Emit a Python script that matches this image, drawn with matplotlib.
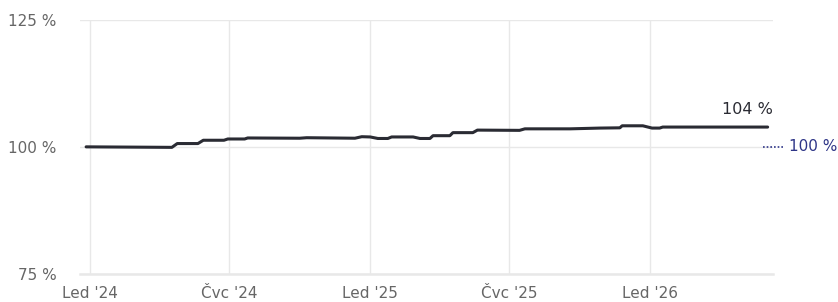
import matplotlib
matplotlib.use("Agg")
import matplotlib.pyplot as plt
import matplotlib.dates as mdates
import numpy as np
import pandas as pd

# Data (index level, %)
dates = ["2023-12-27", "2024-04-17", "2024-04-24", "2024-05-21", "2024-05-28",
         "2024-06-24", "2024-06-29", "2024-07-21", "2024-07-25", "2024-10-01",
         "2024-10-10", "2024-12-12", "2024-12-21", "2025-01-01", "2025-01-11",
         "2025-01-24", "2025-01-29", "2025-02-26", "2025-03-07", "2025-03-20",
         "2025-03-24", "2025-04-15", "2025-04-19", "2025-05-15", "2025-05-21",
         "2025-07-15", "2025-07-22", "2025-09-19", "2025-10-28", "2025-11-23",
         "2025-11-26", "2025-12-23", "2026-01-04", "2026-01-14", "2026-01-18",
         "2026-06-04"]
values = [100.0, 99.9, 100.65, 100.65, 101.3,
          101.3, 101.55, 101.55, 101.75, 101.7,
          101.8, 101.7, 102.0, 101.95, 101.65,
          101.65, 101.95, 101.95, 101.65, 101.65,
          102.2, 102.2, 102.8, 102.8, 103.3,
          103.25, 103.55, 103.55, 103.7, 103.75,
          104.15, 104.15, 103.7, 103.7, 103.9,
          103.9]
end_label = "104 %"
ref_value = 100
ref_label = "100 %"
y_ticks = [75, 100, 125]
y_tick_labels = ["75 %", "100 %", "125 %"]
x_ticks = ["2024-01-01", "2024-07-01", "2025-01-01", "2025-07-01", "2026-01-01"]
x_tick_labels = ["Led '24", "Čvc '24", "Led '25", "Čvc '25", "Led '26"]

plt.rcParams['font.family'] = ['DejaVu Sans']

W, H = 838, 302
fig = plt.figure(figsize=(W / 100, H / 100), dpi=100)
ax = fig.add_axes([80 / W, 1 - 273.7 / H, (773 - 80) / W, (273.7 - 20) / H])

d = pd.to_datetime(dates)
ax.plot(d, values, color="#2a2b33", lw=2.2, solid_joinstyle="round",
        solid_capstyle="round", zorder=3)

x0 = pd.Timestamp("2024-01-01")
xmin = x0 - pd.Timedelta(days=13)
xmax = x0 + pd.Timedelta(days=892)
ax.set_xlim(xmin, xmax)
ax.set_ylim(75, 125)

ax.set_yticks(y_ticks)
ax.set_yticklabels(y_tick_labels)
ax.set_xticks(pd.to_datetime(x_ticks))
ax.set_xticklabels(x_tick_labels)

for s in ax.spines.values():
    s.set_visible(False)
ax.tick_params(axis="both", length=0, colors="#666666", labelsize=11)
ax.tick_params(axis="y", pad=17)
ax.tick_params(axis="x", pad=9)

ax.grid(True, color="#e8e8e8", lw=1)
ax.set_axisbelow(True)
ax.axhline(75, color="#e8e8e8", lw=1.8, zorder=1, clip_on=False)

# end label
ax.annotate(end_label, xy=(d[-1], values[-1]), xytext=(4, 7),
            textcoords="offset points", ha="right", va="bottom",
            fontsize=11.5, color="#2a2b33")

# reference marker outside the axes
trans = ax.get_yaxis_transform()
ax.plot([0.985, 1.018], [ref_value, ref_value], transform=trans, color="#2e3587",
        lw=1.2, ls=(0, (1, 1.2)), clip_on=False)
ax.text(1.0235, ref_value, ref_label, transform=trans, ha="left", va="center",
        fontsize=11, color="#2e3587")

fig.savefig("out.png", dpi=100)
